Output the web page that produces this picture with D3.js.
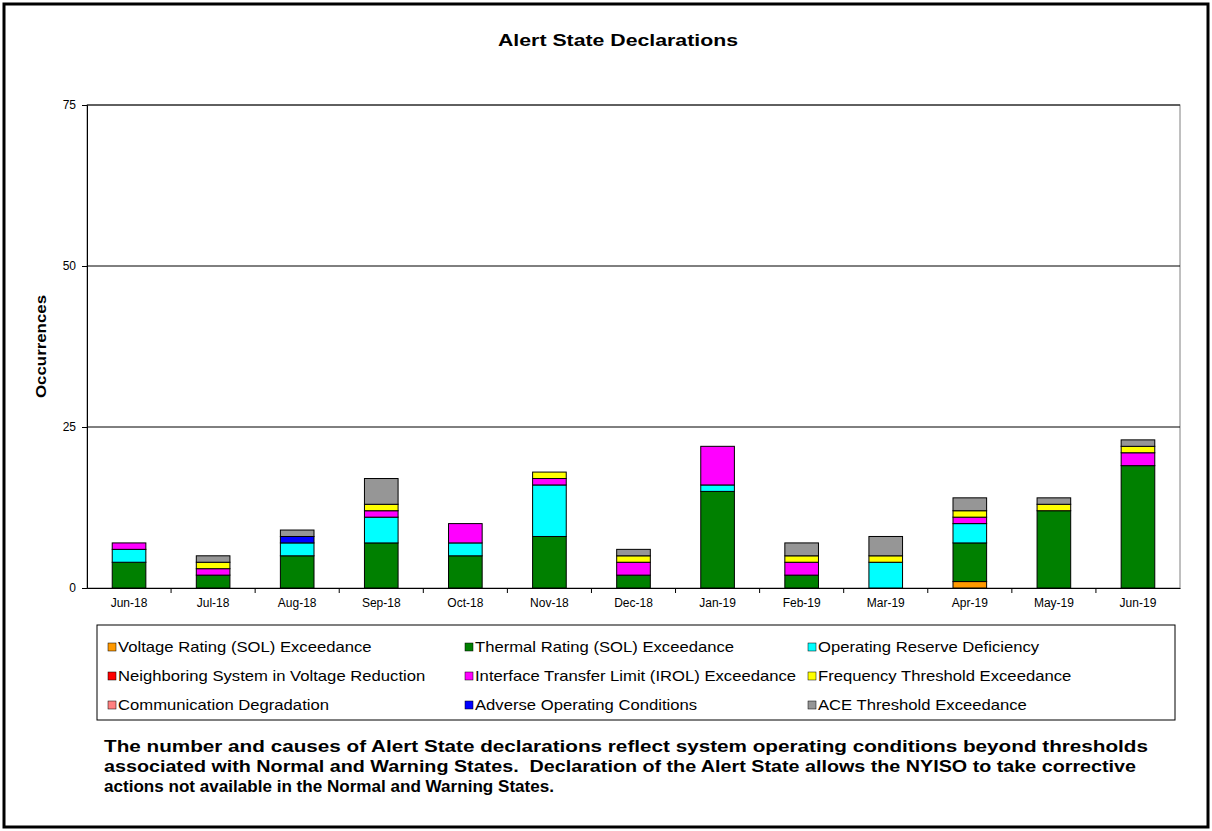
<!DOCTYPE html>
<html><head><meta charset="utf-8">
<script src="https://cdn.jsdelivr.net/npm/d3@7"></script>
<style>body{margin:0;background:#fff}svg{font-family:Arial,"Liberation Sans",sans-serif}</style>
</head><body><svg id="c" width="1212" height="831"></svg>
<script>
const months=["Jun-18","Jul-18","Aug-18","Sep-18","Oct-18","Nov-18","Dec-18","Jan-19","Feb-19","Mar-19","Apr-19","May-19","Jun-19"];
const seriesNames=["Voltage Rating (SOL) Exceedance","Thermal Rating (SOL) Exceedance","Operating Reserve Deficiency","Neighboring System in Voltage Reduction","Interface Transfer Limit (IROL) Exceedance","Frequency Threshold Exceedance","Communication Degradation","Adverse Operating Conditions","ACE Threshold Exceedance"];
const colors=["#FF9900","#008000","#00FFFF","#FF0000","#FF00FF","#FFFF00","#FF8080","#0000FF","#969696"];
const voltage=[0,0,0,0,0,0,0,0,0,0,1,0,0];
const thermal=[4,2,5,7,5,8,2,15,2,0,6,12,19];
const reserve=[2,0,2,4,2,8,0,1,0,4,3,0,0];
const neighbor=[0,0,0,0,0,0,0,0,0,0,0,0,0];
const irol=[1,1,0,1,3,1,2,6,2,0,1,0,2];
const freq=[0,1,0,1,0,1,1,0,1,1,1,1,1];
const comm=[0,0,0,0,0,0,0,0,0,0,0,0,0];
const adverse=[0,0,1,0,0,0,0,0,0,0,0,0,0];
const ace=[0,1,1,4,0,0,1,0,2,3,2,1,1];
const yTicks=[0,25,50,75];
const allSeries=[voltage,thermal,reserve,neighbor,irol,freq,comm,adverse,ace];

const svg=d3.select("#c");
svg.append("rect").attr("x",4).attr("y",4).attr("width",1204).attr("height",823).attr("fill","#fff").attr("stroke","#000").attr("stroke-width",3);
svg.append("text").attr("x",498).attr("y",46).attr("font-size",17).attr("font-weight","bold").attr("textLength",240).attr("lengthAdjust","spacingAndGlyphs").text("Alert State Declarations");
const L=87,R=1180,T=105,B=588;
const x=d3.scaleBand().domain(months).range([L,R]).paddingInner(0.6).paddingOuter(0.3);
const y=d3.scaleLinear().domain([0,75]).range([B,T]);
svg.append("rect").attr("x",L).attr("y",T).attr("width",R-L).attr("height",B-T).attr("fill","#fff").attr("stroke","#808080");
yTicks.forEach(t=>{ if(t>0) svg.append("line").attr("x1",L).attr("x2",R).attr("y1",y(t)).attr("y2",y(t)).attr("stroke","#000");});
const data=months.map((m,i)=>{const o={m};seriesNames.forEach((s,j)=>o[s]=allSeries[j][i]);return o;});
const stack=d3.stack().keys(seriesNames)(data);
stack.forEach((layer,j)=>{
  svg.append("g").selectAll("rect").data(layer.filter(d=>d[1]>d[0])).join("rect")
   .attr("x",d=>x(d.data.m)).attr("width",x.bandwidth())
   .attr("y",d=>y(d[1])).attr("height",d=>y(d[0])-y(d[1]))
   .attr("fill",colors[j]).attr("stroke","#000").attr("stroke-width",1);
});
const ya=svg.append("g").attr("transform",`translate(${L},0)`).call(d3.axisLeft(y).tickValues(yTicks).tickSize(5).tickPadding(6));
const xa=svg.append("g").attr("transform",`translate(0,${B})`).call(d3.axisBottom(x).tickSize(0).tickPadding(10));
[ya,xa].forEach(a=>{a.selectAll("text").attr("font-size",12).attr("font-family","Arial,Liberation Sans").attr("fill","#000");a.selectAll("path,line").attr("stroke","#000");});
const step=x.step();
months.forEach((m,i)=>{ if(i>0){const xx=x(m)-(step-x.bandwidth())/2; svg.append("line").attr("x1",xx).attr("x2",xx).attr("y1",B).attr("y2",B+5).attr("stroke","#000");}});
svg.append("text").attr("transform",`translate(46,${(T+B)/2}) rotate(-90)`).attr("text-anchor","middle").attr("font-size",14).attr("font-weight","bold").attr("textLength",103).attr("lengthAdjust","spacingAndGlyphs").text("Occurrences");
svg.append("rect").attr("x",97).attr("y",625).attr("width",1078).attr("height",95).attr("fill","#fff").attr("stroke","#000");
const colX=[108,465,808];
seriesNames.forEach((s,j)=>{
  const cx=colX[j%3], cy=648+Math.floor(j/3)*29;
  svg.append("rect").attr("x",cx).attr("y",cy-5).attr("width",8).attr("height",8).attr("fill",colors[j]).attr("stroke","#000").attr("stroke-width",0.5);
  svg.append("text").attr("transform",`translate(${cx+10},${cy+4}) scale(1.19,1)`).attr("font-size",14).text(s);
});
const lines=["The number and causes of Alert State declarations reflect system operating conditions beyond thresholds","associated with Normal and Warning States.  Declaration of the Alert State allows the NYISO to take corrective","actions not available in the Normal and Warning States."];
const lens=[1044,1032,450];
lines.forEach((l,i)=>svg.append("text").attr("x",104).attr("y",752+i*20).attr("font-size",16.5).attr("font-weight","bold").attr("xml:space","preserve").attr("textLength",lens[i]).attr("lengthAdjust","spacingAndGlyphs").text(l));
</script></body></html>
